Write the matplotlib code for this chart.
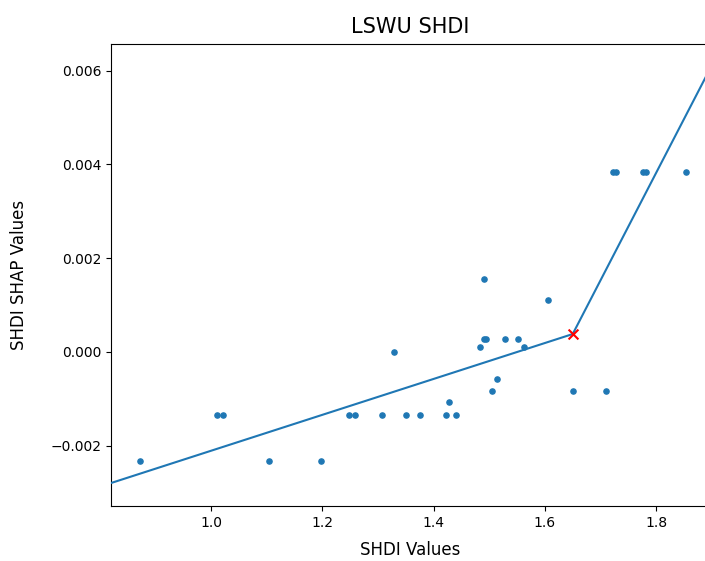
import matplotlib
matplotlib.use("Agg")
import matplotlib.pyplot as plt

# Scatter data (SHDI values vs SHAP values)
shdi_x = [0.872, 1.011, 1.022, 1.104, 1.198, 1.248, 1.259, 1.307, 1.329,
          1.351, 1.375, 1.422, 1.427, 1.441, 1.484, 1.490, 1.494, 1.491,
          1.505, 1.514, 1.529, 1.552, 1.563, 1.606, 1.651, 1.710,
          1.722, 1.728, 1.776, 1.782, 1.853]
shap_y = [-0.00233, -0.00134, -0.00134, -0.00233, -0.00233, -0.00134, -0.00134,
          -0.00134, 0.0, -0.00134, -0.00134, -0.00134, -0.00108, -0.00134,
          0.00010, 0.00028, 0.00028, 0.00156, -0.00083, -0.00057, 0.00028,
          0.00028, 0.00010, 0.00110, -0.00083, -0.00083,
          0.00383, 0.00383, 0.00383, 0.00383, 0.00383]

# Piecewise linear fit
line_x = [0.82, 1.650, 1.895]
line_y = [-0.0028, 0.00038, 0.0060]

# Breakpoint
break_x = [1.650]
break_y = [0.00038]

fig = plt.figure(figsize=(7.05, 5.61), dpi=100)
ax = fig.add_axes([111/705, 55/561, (709 - 111)/705, (506 - 44)/561])

ax.scatter(shdi_x, shap_y, s=14, color="#1f77b4", zorder=2)
ax.plot(line_x, line_y, color="#1f77b4", linewidth=1.5, zorder=3)
ax.scatter(break_x, break_y, marker="x", color="red", s=50, zorder=4)

ax.set_xlim(0.82, 1.895)
ax.set_ylim(-0.00329, 0.00657)
ax.set_xticks([1.0, 1.2, 1.4, 1.6, 1.8])
ax.set_yticks([-0.002, 0.0, 0.002, 0.004, 0.006])
ax.tick_params(labelsize=10)
ax.set_xlabel("SHDI Values", fontsize=12, labelpad=8)
ax.set_ylabel("SHDI SHAP Values", fontsize=12, labelpad=16)
ax.set_title("LSWU SHDI", fontsize=15, pad=8)

fig.savefig("out.png", dpi=100)
